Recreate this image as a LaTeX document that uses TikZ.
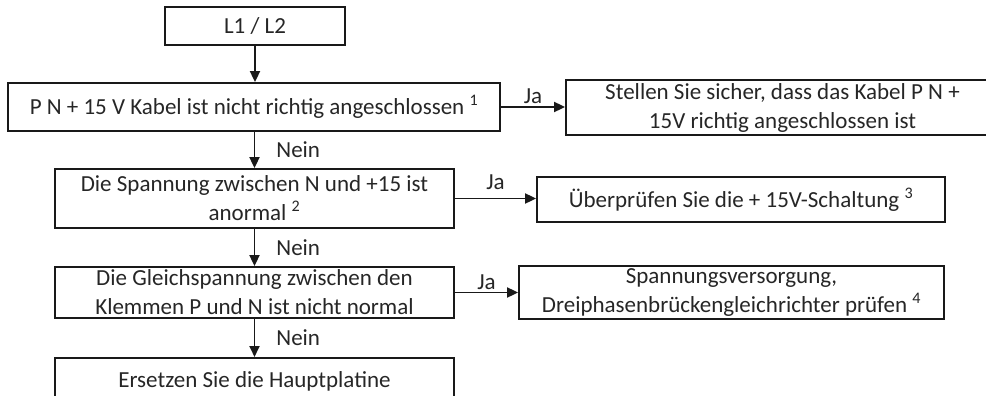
\documentclass[tikz,border=0pt]{standalone}
\usepackage{fontspec}
\setmainfont{Carlito}
\usetikzlibrary{arrows.meta}
\begin{document}
\begin{tikzpicture}[x=1pt,y=-1pt,
  box/.style={draw=black!90, line width=1.8pt, align=center, inner sep=0pt,
    font=\fontsize{23}{29}\selectfont, text=black!85},
  arr/.style={draw=black!90, line width=1.8pt, -{Triangle[length=11pt,width=10pt]}},
  lbl/.style={font=\fontsize{23}{28}\selectfont, text=black!85, inner sep=0pt}]
\useasboundingbox (0,0) rectangle (986,396);
\node[box, minimum width=180pt, minimum height=38pt] (l1) at (255,26) {L1 / L2};
\node[box, minimum width=492pt, minimum height=48pt] (b2) at (254,107) {P N + 15 V Kabel ist nicht richtig angeschlossen \textsuperscript{1}};
\node[box, minimum width=399pt, minimum height=59pt] (b3) at (254.5,198.5) {Die Spannung zwischen N und +15 ist\\anormal \textsuperscript{2}};
\node[box, minimum width=399pt, minimum height=51pt] (b4) at (254.5,292.5) {Die Gleichspannung zwischen den\\Klemmen P und N ist nicht normal};
\node[box, minimum width=399pt, minimum height=46pt, anchor=north] (b5) at (254.5,357) {Ersetzen Sie die Hauptplatine};
\node[box, minimum width=433pt, minimum height=55pt] (r1) at (782.5,107.5) {Stellen Sie sicher, dass das Kabel P N +\\15V richtig angeschlossen ist};
\node[box, minimum width=408pt, minimum height=45pt] (r2) at (741,199.5) {Überprüfen Sie die + 15V-Schaltung \textsuperscript{3}};
\node[box, minimum width=425pt, minimum height=53pt] (r3) at (731.5,292.5) {Spannungsversorgung,\\Dreiphasenbrückengleichrichter prüfen \textsuperscript{4}};
\draw[arr] (l1.south) -- (l1.south |- b2.north);
\draw[arr] (b2.south -| b3.north) -- node[lbl, right=21pt] {Nein} (b3.north);
\draw[arr] (b3.south) -- node[lbl, right=21pt] {Nein} (b4.north);
\draw[arr] (b4.south) -- node[lbl, right=21pt] {Nein} (b5.north);
\draw[arr] (b2.east) -- node[lbl, yshift=11pt] {Ja} (b2.east -| r1.west);
\draw[arr] (b3.east) -- node[lbl, yshift=16pt] {Ja} (b3.east -| r2.west);
\draw[arr] (b4.east) -- node[lbl, yshift=10pt] {Ja} (b4.east -| r3.west);
\end{tikzpicture}
\end{document}
